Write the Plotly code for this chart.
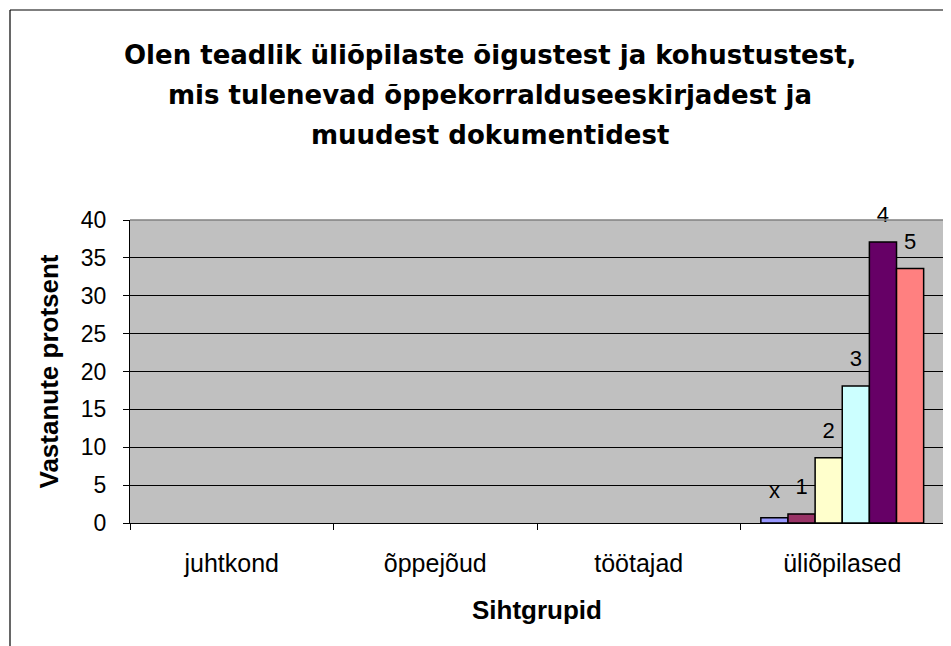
import plotly.graph_objects as go

categories = ["juhtkond", "õppejõud", "töötajad", "üliõpilased"]
series_names = ["x", "1", "2", "3", "4", "5"]
values_x = [None, None, None, 0.7]
values_1 = [None, None, None, 1.2]
values_2 = [None, None, None, 8.6]
values_3 = [None, None, None, 18.1]
values_4 = [None, None, None, 37.1]
values_5 = [None, None, None, 33.6]
series_values = [values_x, values_1, values_2, values_3, values_4, values_5]
colors = ["#9999FF", "#993366", "#FFFFCC", "#CCFFFF", "#660066", "#FF8080"]

title_lines = [
    "Olen teadlik üliõpilaste õigustest ja kohustustest,",
    "mis tulenevad õppekorralduseeskirjadest ja",
    "muudest dokumentidest",
]
y_ticks = [0, 5, 10, 15, 20, 25, 30, 35, 40]

FONT = "Liberation Sans, Arial, sans-serif"
TITLE_FONT = "DejaVu Sans, Liberation Sans, sans-serif"

fig = go.Figure()
for name, vals, col in zip(series_names, series_values, colors):
    fig.add_trace(go.Bar(
        x=categories, y=vals, name=name, offsetgroup=name,
        marker=dict(color=col, line=dict(color="black", width=1.5)),
        hoverinfo="skip",
    ))
for name, vals in zip(series_names, series_values):
    fig.add_trace(go.Scatter(
        x=categories, y=vals, name=name, offsetgroup=name,
        mode="markers+text",
        text=[name if v is not None else "" for v in vals],
        textposition="top center",
        textfont=dict(family=FONT, size=22, color="black"),
        marker=dict(size=21, color="rgba(0,0,0,0)"),
        cliponaxis=False, hoverinfo="skip",
    ))

# page pixel geometry (page has an 8px body margin around the figure)
plot_top_px = 220
plot_bottom_px = 523
plot_h = plot_bottom_px - plot_top_px
plot_left_px = 130
plot_w = 814

def ypap(px):
    return (plot_bottom_px - px) / plot_h

def xpap(px):
    return (px - plot_left_px) / plot_w

annotations = []
for line, yc in zip(title_lines, [55, 95, 135]):
    annotations.append(dict(
        text="<b>" + line + "</b>", xref="paper", yref="paper",
        x=xpap(490), y=ypap(yc), xanchor="center", yanchor="middle",
        showarrow=False, font=dict(family=TITLE_FONT, size=26, color="black"),
    ))

shapes = [
    dict(type="line", xref="paper", yref="paper", x0=xpap(10), x1=xpap(960),
         y0=ypap(10), y1=ypap(10), line=dict(color="black", width=1.2)),
    dict(type="line", xref="paper", yref="paper", x0=xpap(10), x1=xpap(10),
         y0=ypap(10), y1=ypap(660), line=dict(color="black", width=1.2)),
    dict(type="line", xref="paper", yref="paper", x0=0, x1=1, y0=1, y1=1,
         line=dict(color="#808080", width=1.5)),
    dict(type="line", xref="paper", yref="paper", x0=1, x1=1, y0=0, y1=1,
         line=dict(color="#808080", width=1.5)),
]

fig.update_layout(
    width=943, height=638,
    margin=dict(l=122, r=7, t=212, b=123),
    paper_bgcolor="white", plot_bgcolor="#C0C0C0",
    barmode="group", bargap=0.2, bargroupgap=0,
    scattermode="group", scattergap=0.2,
    showlegend=False,
    font=dict(family=FONT, color="black"),
    annotations=annotations, shapes=shapes,
    xaxis=dict(
        type="category", categoryorder="array", categoryarray=categories,
        tickson="boundaries", ticks="outside", ticklen=6, tickcolor="black",
        showgrid=False, showline=True, linecolor="black", linewidth=1.2,
        tickfont=dict(size=25, family=FONT), ticklabelstandoff=18,
        title=dict(text="<b>Sihtgrupid</b>", font=dict(size=26, family=FONT), standoff=24),
    ),
    yaxis=dict(
        range=[0, 40], tickvals=y_ticks, ticks="outside", ticklen=6, tickcolor="black",
        showgrid=True, gridcolor="black", gridwidth=1,
        showline=True, linecolor="black", linewidth=1.2, zeroline=False,
        tickfont=dict(size=23, family=FONT), ticklabelstandoff=12,
        title=dict(text="<b>Vastanute protsent</b>", font=dict(size=26, family=FONT), standoff=14),
    ),
)

fig.write_html("out.html")
